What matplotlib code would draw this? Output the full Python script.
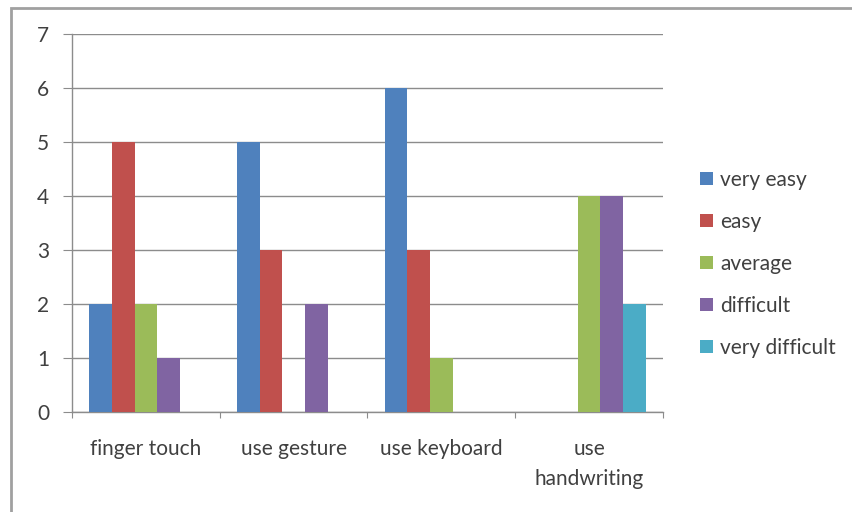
import matplotlib
matplotlib.use("Agg")
import matplotlib.pyplot as plt
import numpy as np
from matplotlib.patches import Rectangle

categories = ["finger touch", "use gesture", "use keyboard", "use\nhandwriting"]
series_names = ["very easy", "easy", "average", "difficult", "very difficult"]
very_easy = [2, 5, 6, 0]
easy = [5, 3, 3, 0]
average = [2, 0, 1, 4]
difficult = [1, 2, 0, 4]
very_difficult = [0, 0, 0, 2]
yticks = [0, 1, 2, 3, 4, 5, 6, 7]

series = [very_easy, easy, average, difficult, very_difficult]
colors = ["#4F81BD", "#C0504D", "#9BBB59", "#8064A2", "#4BACC6"]

plt.rcParams['font.family'] = ['Lato', 'DejaVu Sans']
txt = "#404040"
grid = "#8C8C8C"
fs = 15

fig = plt.figure(figsize=(8.53, 5.12), dpi=100)
# chart border
fig.patches.append(Rectangle((11/853, -0.1), 1.2, (1 - 8/512) + 0.1, transform=fig.transFigure,
                             fill=False, edgecolor="#A0A0A0", linewidth=2.0))

ax = fig.add_axes([72/853, 1 - 411.7/512, (663 - 72)/853, (411.7 - 34)/512])

n = len(series)
gap = 1.5
w = 1.0 / (n + gap)
x = np.arange(len(categories))
for i, (vals, c, name) in enumerate(zip(series, colors, series_names)):
    offs = (i - (n - 1) / 2) * w
    ax.bar(x + offs, vals, width=w, color=c, label=name, zorder=3, linewidth=0)

ax.set_xlim(-0.5, len(categories) - 0.5)
ax.set_ylim(0, 7)
ax.set_yticks(yticks)
ax.yaxis.grid(True, color=grid, linewidth=1.0, zorder=0)
ax.set_axisbelow(True)

for s in ["top", "right"]:
    ax.spines[s].set_visible(False)
for s in ["left", "bottom"]:
    ax.spines[s].set_color(grid)
    ax.spines[s].set_linewidth(1.0)

ax.tick_params(axis='y', length=6.5, color=grid, pad=10, labelsize=fs, labelcolor=txt)
ax.set_xticks(np.arange(-0.5, len(categories), 1.0))
ax.set_xticklabels([])
ax.tick_params(axis='x', length=4.5, color=grid, direction='out')
for xi, lab in zip(x, categories):
    ax.annotate(lab, xy=(xi, 0), xycoords=('data', 'axes fraction'),
                xytext=(0, -20), textcoords='offset points',
                ha='center', va='top', fontsize=fs, color=txt, linespacing=1.62)

leg = fig.legend(loc='upper left', bbox_to_anchor=(683/853, 1 - 153/512), frameon=False,
                 fontsize=fs, labelcolor=txt, handlelength=0.63, handleheight=0.63,
                 handletextpad=0.35, labelspacing=1.06, borderpad=0.3)

fig.savefig("out.png", dpi=100)
